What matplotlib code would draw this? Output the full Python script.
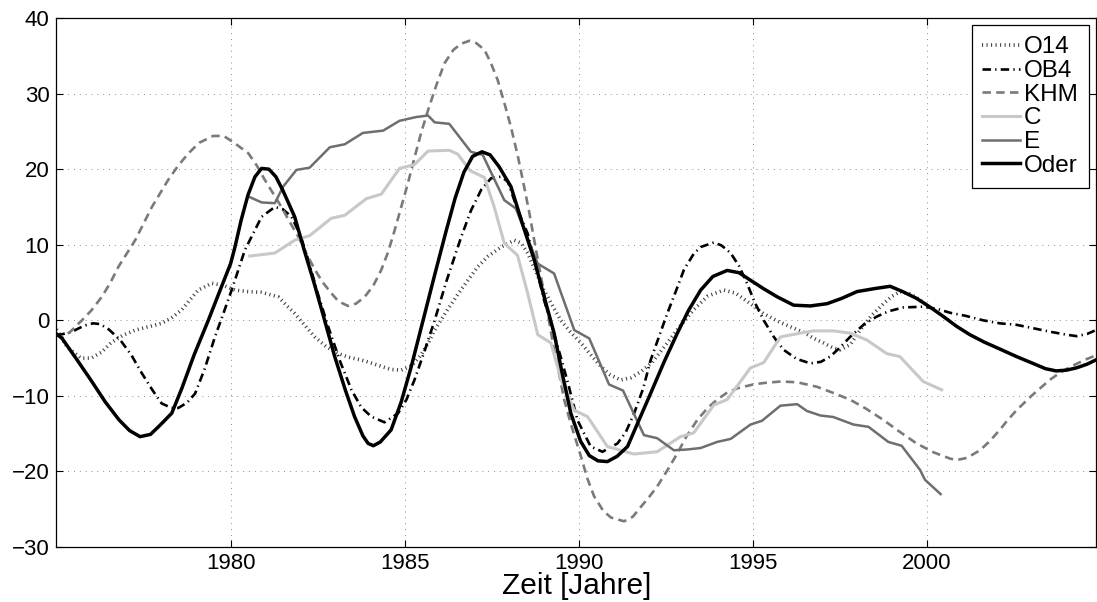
import matplotlib
matplotlib.use("Agg")
import matplotlib.pyplot as plt

plt.rcParams["font.family"] = ["Liberation Sans", "DejaVu Sans"]

# --- data ------------------------------------------------------------------
o14_t = [1975.0, 1975.3, 1975.7, 1976.0, 1976.3, 1976.56, 1976.9, 1977.26, 1977.6,
         1978.02, 1978.3, 1978.6, 1978.85, 1979.07, 1979.46, 1979.8, 1980.12, 1980.5,
         1980.89, 1981.37, 1981.6, 1981.84, 1982.1, 1982.42, 1982.75, 1983.09, 1983.4,
         1983.75, 1984.0, 1984.33, 1984.6, 1984.9, 1985.2, 1985.47, 1985.7, 1985.86,
         1986.2, 1986.52, 1986.8, 1987.1, 1987.4, 1987.77, 1988.15, 1988.35, 1988.53,
         1988.75, 1989.0, 1989.25, 1989.48, 1989.75, 1990.06, 1990.35, 1990.63, 1990.9,
         1991.2, 1991.5, 1991.78, 1992.1, 1992.54, 1992.9, 1993.3, 1993.7, 1994.16,
         1994.5, 1994.93, 1995.3, 1995.7, 1996.1, 1996.46, 1996.75, 1997.03, 1997.32,
         1997.51, 1997.8, 1998.08, 1998.4, 1998.75, 1999.0, 1999.23, 1999.5, 1999.7, 2000.0]
o14_v = [-1.2, -3.5, -5.0, -5.0, -4.2, -3.0, -2.0, -1.3, -0.9,
         -0.4, 0.3, 1.4, 2.8, 4.0, 4.9, 4.6, 4.0, 3.8,
         3.7, 3.1, 2.0, 0.9, -0.5, -2.2, -3.5, -4.4, -4.9,
         -5.25, -5.6, -6.1, -6.5, -6.6, -6.0, -4.6, -2.8, -1.3,
         1.2, 3.4, 5.2, 7.1, 8.5, 9.7, 10.6, 10.2, 8.9,
         6.6, 4.0, 1.9, 0.0, -1.5, -3.0, -4.6, -6.1, -7.2,
         -7.9, -7.6, -6.8, -5.6, -3.0, -0.8, 1.4, 3.2, 4.0,
         3.6, 2.2, 0.9, -0.1, -0.9, -1.6, -2.4, -3.0, -3.7,
         -3.9, -3.2, -1.3, 0.6, 2.2, 3.2, 3.8, 3.5, 3.0, 2.0]

ob4_t = [1975.0, 1975.4, 1975.8, 1976.05, 1976.25, 1976.5, 1976.83, 1977.15, 1977.45,
         1977.75, 1978.02, 1978.3, 1978.5, 1978.75, 1978.98, 1979.25, 1979.55, 1979.8,
         1980.03, 1980.41, 1980.89, 1981.27, 1981.5, 1981.75, 1982.0, 1982.23, 1982.5,
         1982.8, 1983.15, 1983.47, 1983.75, 1984.04, 1984.42, 1984.81, 1985.05, 1985.28,
         1985.56, 1985.86, 1986.2, 1986.62, 1986.9, 1987.2, 1987.48, 1987.75, 1987.96,
         1988.25, 1988.53, 1988.75, 1989.0, 1989.2, 1989.49, 1989.7, 1989.96, 1990.34,
         1990.68, 1991.11, 1991.35, 1991.59, 1991.85, 1992.06, 1992.3, 1992.54, 1992.8,
         1993.02, 1993.3, 1993.5, 1993.88, 1994.1, 1994.36, 1994.6, 1994.83, 1995.05,
         1995.31, 1995.6, 1995.88, 1996.25, 1996.65, 1996.95, 1997.22, 1997.5, 1997.79,
         1998.2, 1998.56, 1998.9, 1999.32, 1999.89, 2000.3, 2000.66, 2001.1, 2001.61,
         2002.09, 2002.57, 2003.0, 2003.52, 2004.0, 2004.3, 2004.6, 2004.85]
ob4_v = [-2.0, -1.6, -0.7, -0.4, -0.5, -1.2, -2.6, -4.6, -7.0,
         -9.2, -11.0, -11.6, -11.6, -10.9, -9.7, -6.5, -2.2, 1.0,
         4.0, 9.3, 13.7, 15.0, 14.7, 13.7, 11.3, 8.0, 3.6,
         -0.8, -5.5, -9.2, -11.5, -12.75, -13.5, -12.3, -10.5, -7.9,
         -4.2, 0.0, 5.2, 11.0, 14.5, 17.3, 18.8, 19.0, 18.4,
         14.5, 11.5, 7.5, 2.7, -0.4, -5.0, -8.5, -13.2, -16.7,
         -17.4, -16.3, -14.8, -12.3, -9.0, -5.3, -2.2, 0.9, 4.0,
         6.7, 8.8, 9.7, 10.3, 9.9, 8.9, 7.2, 4.9, 2.4,
         0.0, -2.2, -3.9, -5.1, -5.7, -5.5, -4.8, -3.6, -2.2,
         -0.5, 0.5, 1.2, 1.7, 1.8, 1.5, 1.0, 0.6, 0.0,
         -0.4, -0.6, -1.0, -1.5, -1.9, -2.1, -1.8, -1.3]

khm_t = [1975.0, 1975.16, 1975.4, 1975.73, 1976.0, 1976.3, 1976.55, 1976.78, 1977.0,
         1977.26, 1977.5, 1977.74, 1978.0, 1978.21, 1978.5, 1978.79, 1979.1, 1979.5,
         1979.8, 1980.1, 1980.51, 1980.75, 1980.98, 1981.22, 1981.46, 1981.7, 1981.94,
         1982.18, 1982.42, 1982.65, 1982.89, 1983.1, 1983.37, 1983.6, 1983.85, 1984.1,
         1984.33, 1984.52, 1984.71, 1984.9, 1985.09, 1985.28, 1985.47, 1985.67, 1985.9,
         1986.14, 1986.4, 1986.62, 1986.86, 1987.05, 1987.29, 1987.48, 1987.67, 1987.86,
         1988.05, 1988.25, 1988.43, 1988.58, 1988.72, 1988.86, 1989.0, 1989.15, 1989.29,
         1989.44, 1989.58, 1989.77, 1990.06, 1990.25, 1990.44, 1990.7, 1990.92, 1991.3,
         1991.55, 1991.78, 1992.0, 1992.25, 1992.55, 1992.83, 1993.1, 1993.4, 1993.7,
         1993.97, 1994.25, 1994.55, 1995.0, 1995.31, 1995.8, 1996.27, 1996.84, 1997.3,
         1997.79, 1998.25, 1998.75, 1999.2, 1999.7, 2000.2, 2000.66, 2000.85, 2001.15,
         2001.52, 2001.8, 2002.09, 2002.3, 2002.57, 2003.0, 2003.52, 2003.8, 2004.1,
         2004.5, 2004.87]
khm_v = [-1.8, -2.3, -1.5, 0.0, 1.3, 3.1, 5.0, 7.1, 8.7,
         10.6, 12.8, 15.0, 17.0, 18.6, 20.5, 22.1, 23.5, 24.4,
         24.4, 23.5, 22.1, 20.5, 18.6, 16.8, 15.0, 13.0, 11.1,
         8.8, 6.7, 5.0, 3.6, 2.5, 1.9, 2.2, 3.1, 4.6,
         6.7, 9.0, 11.9, 15.0, 18.1, 21.5, 24.8, 27.8, 31.0,
         34.0, 35.8, 36.6, 37.0, 36.7, 35.8, 34.0, 31.8, 28.8,
         25.6, 21.7, 17.7, 14.2, 10.6, 7.1, 3.6, -0.2, -3.9,
         -7.2, -10.5, -13.7, -18.0, -21.0, -23.3, -25.2, -26.1, -26.6,
         -26.0, -24.7, -23.5, -22.0, -19.8, -17.6, -15.3, -13.2, -11.6,
         -10.5, -9.6, -9.0, -8.5, -8.3, -8.1, -8.2, -8.8, -9.6,
         -10.5, -11.7, -13.2, -14.7, -16.3, -17.5, -18.3, -18.5, -18.2,
         -17.2, -16.0, -14.5, -13.3, -11.9, -10.0, -7.9, -7.0, -6.2,
         -5.3, -4.6]

c_t = [1980.55, 1981.27, 1981.84, 1982.27, 1982.89, 1983.28, 1983.9, 1984.33, 1984.85,
       1985.28, 1985.67, 1986.28, 1986.52, 1986.88, 1987.29, 1987.57, 1987.86, 1988.24,
       1988.53, 1988.82, 1989.2, 1989.5, 1989.87, 1990.25, 1990.82, 1991.58, 1992.25,
       1992.92, 1993.3, 1993.88, 1994.26, 1994.93, 1995.31, 1995.79, 1996.36, 1996.74,
       1997.31, 1997.79, 1998.27, 1998.84, 1999.22, 1999.89, 2000.42]
c_v = [8.5, 8.9, 10.6, 11.2, 13.5, 13.9, 16.1, 16.7, 20.1,
       20.6, 22.4, 22.5, 22.0, 19.8, 18.9, 15.0, 10.2, 8.6,
       3.6, -1.9, -3.0, -8.0, -11.9, -12.75, -16.7, -17.7, -17.4,
       -15.4, -14.9, -11.2, -10.5, -6.3, -5.6, -2.2, -1.7, -1.4,
       -1.4, -1.7, -2.6, -4.4, -4.8, -8.1, -9.2]

e_t = [1980.55, 1980.89, 1981.27, 1981.51, 1981.89, 1982.27, 1982.85, 1983.28, 1983.8,
       1984.38, 1984.85, 1985.33, 1985.67, 1985.86, 1986.28, 1986.9, 1987.24, 1987.86,
       1988.19, 1988.82, 1989.29, 1989.87, 1990.3, 1990.87, 1991.27, 1991.87, 1992.25,
       1992.73, 1993.11, 1993.5, 1993.97, 1994.36, 1994.93, 1995.26, 1995.79, 1996.27,
       1996.55, 1996.94, 1997.31, 1997.89, 1998.32, 1998.89, 1999.27, 1999.8, 1999.94,
       2000.39]
e_v = [16.3, 15.6, 15.5, 17.7, 19.9, 20.2, 22.9, 23.3, 24.8,
       25.1, 26.4, 26.9, 27.1, 26.2, 26.0, 22.3, 21.9, 15.9,
       14.8, 7.5, 6.2, -1.3, -2.4, -8.5, -9.3, -15.2, -15.6,
       -17.2, -17.1, -16.9, -16.1, -15.7, -13.8, -13.3, -11.3, -11.1,
       -12.0, -12.6, -12.8, -13.8, -14.1, -16.1, -16.6, -19.8, -21.1,
       -23.0]

oder_t = [1975.0, 1975.16, 1975.6, 1976.0, 1976.4, 1976.8, 1977.1, 1977.4, 1977.7,
          1977.97, 1978.31, 1978.6, 1978.95, 1979.36, 1979.7, 1980.0, 1980.12, 1980.3,
          1980.5, 1980.7, 1980.89, 1981.1, 1981.3, 1981.5, 1981.84, 1982.1, 1982.4,
          1982.7, 1982.99, 1983.3, 1983.56, 1983.8, 1983.95, 1984.1, 1984.3, 1984.61,
          1984.9, 1985.19, 1985.5, 1985.86, 1986.2, 1986.45, 1986.7, 1986.95, 1987.22,
          1987.45, 1987.7, 1988.05, 1988.4, 1988.72, 1989.0, 1989.29, 1989.5, 1989.77,
          1990.05, 1990.3, 1990.55, 1990.82, 1991.1, 1991.4, 1991.7, 1992.06, 1992.45,
          1992.83, 1993.15, 1993.5, 1993.85, 1994.26, 1994.6, 1994.93, 1995.3, 1995.7,
          1996.17, 1996.65, 1997.13, 1997.55, 1997.99, 1998.5, 1998.94, 1999.3, 1999.7,
          2000.07, 2000.47, 2000.85, 2001.23, 2001.65, 2002.09, 2002.57, 2003.04, 2003.4,
          2003.71, 2004.0, 2004.29, 2004.6, 2004.87]
oder_v = [-1.8, -2.4, -5.3, -8.0, -10.8, -13.2, -14.6, -15.4, -15.1,
          -13.9, -12.3, -9.0, -4.6, 0.0, 4.0, 7.5, 9.6, 13.2,
          16.6, 19.0, 20.1, 20.0, 19.0, 17.2, 13.7, 9.5, 4.9,
          0.0, -4.8, -9.3, -12.75, -15.3, -16.3, -16.6, -16.1, -14.5,
          -10.8, -6.1, -0.5, 6.0, 12.0, 16.2, 19.6, 21.7, 22.3,
          21.9, 20.4, 17.7, 12.5, 8.0, 3.2, -1.7, -6.5, -12.3,
          -16.0, -17.9, -18.6, -18.7, -18.0, -16.7, -13.5, -9.7, -5.5,
          -1.7, 1.3, 4.0, 5.8, 6.6, 6.3, 5.3, 4.2, 3.1,
          2.0, 1.9, 2.2, 2.9, 3.8, 4.2, 4.5, 3.8, 2.9,
          1.8, 0.5, -0.8, -1.9, -2.9, -3.8, -4.8, -5.7, -6.4,
          -6.7, -6.6, -6.3, -5.8, -5.2]

x_ticks = [1980, 1985, 1990, 1995, 2000]
y_ticks = [-30, -20, -10, 0, 10, 20, 30, 40]

# --- figure ------------------------------------------------------------------
fig = plt.figure(figsize=(10.97, 6.02), dpi=100)
ax = fig.add_axes([0.0515, 0.0914, 0.9475, 0.8786])

ax.plot(o14_t, o14_v, color="#404040", lw=2.6, dashes=(0.3, 0.95),
        dash_capstyle="butt", label="O14")
ax.plot(ob4_t, ob4_v, color="black", lw=1.9, dashes=(3.2, 1.6, 0.5, 1.6),
        label="OB4")
ax.plot(khm_t, khm_v, color="#7a7a7a", lw=1.9, dashes=(3.2, 2.0), label="KHM")
ax.plot(c_t, c_v, color="#c8c8c8", lw=2.2, label="C")
ax.plot(e_t, e_v, color="#6e6e6e", lw=1.8, label="E")
ax.plot(oder_t, oder_v, color="black", lw=2.5, label="Oder")

ax.set_xlim(1975.0, 2004.85)
ax.set_ylim(-30, 40)
ax.set_xticks(x_ticks)
ax.set_yticks(y_ticks)
ax.tick_params(direction="in", top=True, right=True, length=5, width=0.8,
               labelsize=16)
ax.tick_params(axis="y", pad=5)
ax.tick_params(axis="x", pad=4)
ax.grid(True, color="#8c8c8c", lw=0.7, dashes=(1, 5))
for s in ax.spines.values():
    s.set_linewidth(0.9)

ax.set_xlabel("Zeit [Jahre]", fontsize=21.5)
ax.xaxis.label.set_va("baseline")
ax.xaxis.set_label_coords(0.5, -0.0885)

leg = ax.legend(loc="upper right", fontsize=17.5, frameon=True, fancybox=False,
                edgecolor="black", framealpha=1, handlelength=1.55,
                handletextpad=0.15, labelspacing=0.07, borderpad=0.45,
                borderaxespad=0.3)
leg.get_frame().set_linewidth(0.9)

fig.savefig("out.png", dpi=100)
